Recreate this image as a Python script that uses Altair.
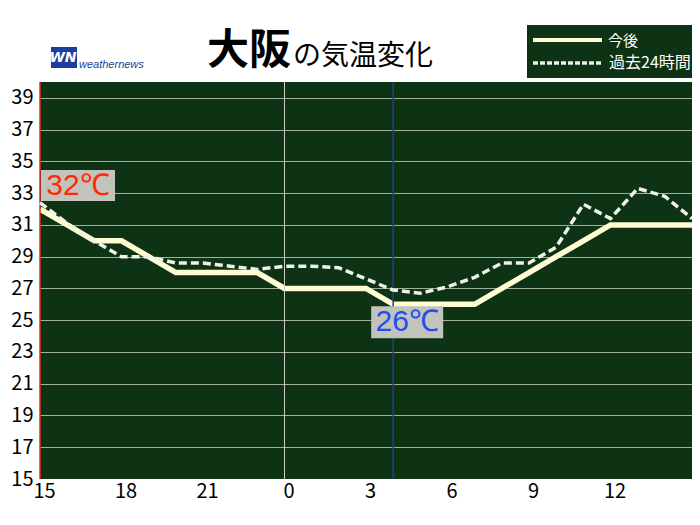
import altair as alt
import pandas as pd

# ---- data ----
hours = [15, 16, 17, 18, 19, 20, 21, 22, 23, 0, 1, 2, 3, 4, 5, 6, 7, 8, 9, 10, 11, 12, 13, 14, 15]
forecast = [32, 31, 30, 30, 29, 28, 28, 28, 28, 27, 27, 27, 27, 26, 26, 26, 26, 27, 28, 29, 30, 31, 31, 31, 31]
past24 = [32.4, 31.1, 30.0, 29.0, 29.0, 28.6, 28.6, 28.4, 28.2, 28.4, 28.4, 28.3, 27.6,
          26.9, 26.7, 27.1, 27.7, 28.6, 28.6, 29.6, 32.3, 31.4, 33.3, 32.8, 31.4]
y_ticks = [15, 17, 19, 21, 23, 25, 27, 29, 31, 33, 35, 37, 39]
x_tick_steps = [0, 3, 6, 9, 12, 15, 18, 21]
now_step = [13]          # current time (4時)
midnight_step = [9]      # 0時
max_step = [0]
ann_steps = [0, 13]
ann_temps = [32, 26]
ann_text = ["32℃", "26℃"]
series_names = ["今後", "過去24時間"]
title_big = "大阪"
title_small = "の気温変化"

BG = "#0d3214"
CREAM = "#fffbd2"
DASH = "#eef2e6"
FONT = "Noto Sans CJK JP"
NUMFONT = "Liberation Sans"

steps = list(range(len(hours)))
df = pd.DataFrame({"step": steps, "hour": hours, "forecast": forecast, "past": past24})
ann = pd.DataFrame({"step": ann_steps, "temp": ann_temps, "label": ann_text})
one = pd.DataFrame({"a": [0]})

label_expr = "[" + ",".join(str(h) for h in hours) + "][datum.value]"

xscale = alt.Scale(domain=[0, 24], nice=False, zero=False)
yscale = alt.Scale(domain=[15, 40], nice=False, zero=False)

x_enc = alt.X("step:Q", scale=xscale, axis=alt.Axis(
    values=x_tick_steps, tickCount=30, labelExpr=label_expr, title=None, grid=False,
    domain=False, ticks=False, labelFont=FONT, labelFontSize=20, labelColor="#000",
    labelPadding=2, labelOffset=4, labelFlush=False, labelOverlap=False))

base = alt.Chart(df)

yaxis = alt.Axis(values=y_ticks, tickCount=30, title=None, domain=False, ticks=False,
                 labelFont=FONT, labelFontSize=20, labelColor="#000", labelPadding=7,
                 labelOverlap=False, labelFlush=False, labelBound=False,
                 grid=True,
                 gridColor=alt.condition("datum.value == 15", alt.value("transparent"), alt.value("#9fb19a")),
                 gridWidth=1)

solid = base.mark_line(color=CREAM, strokeWidth=5.5, strokeJoin="miter").encode(
    x=x_enc, y=alt.Y("forecast:Q", scale=yscale, axis=yaxis))
dashed = base.mark_line(color=DASH, strokeWidth=3.5, strokeDash=[8, 4]).encode(
    x="step:Q", y="past:Q")

mid_rule = alt.Chart(pd.DataFrame({"step": midnight_step})).mark_rule(
    color="#c9d3c2", strokeWidth=1).encode(x="step:Q")
now_rule = alt.Chart(pd.DataFrame({"step": now_step})).mark_rule(
    color="#1f3fa0", strokeWidth=1.5).encode(x="step:Q")
max_rule = alt.Chart(pd.DataFrame({"step": max_step})).mark_rule(
    color="#e03020", strokeWidth=1.5).encode(x="step:Q")

ann_max = alt.Chart(ann.iloc[[0]])
ann_min = alt.Chart(ann.iloc[[1]])
box_max = ann_max.mark_rect(color="#c2c3bb", xOffset=1, x2Offset=75, yOffset=-39, y2Offset=-8).encode(
    x="step:Q", x2="step:Q", y="temp:Q", y2="temp:Q")
txt_max = ann_max.mark_text(color="#ff2a0a", font=NUMFONT, fontSize=30, dx=38, dy=-23,
                            baseline="middle", align="center").encode(
    x="step:Q", y="temp:Q", text="label:N")
box_min = ann_min.mark_rect(color="#c2c3bb", xOffset=-22, x2Offset=50, yOffset=2, y2Offset=34).encode(
    x="step:Q", x2="step:Q", y="temp:Q", y2="temp:Q")
txt_min = ann_min.mark_text(color="#1e4ff0", font=NUMFONT, fontSize=30, dx=14, dy=18,
                            baseline="middle", align="center").encode(
    x="step:Q", y="temp:Q", text="label:N")

o = alt.Chart(one)
t_big = o.mark_text(text=title_big, font=FONT, fontSize=42, fontWeight="bold", color="#000",
                    align="left", baseline="alphabetic").encode(x=alt.value(167), y=alt.value(-18))
t_small = o.mark_text(text=title_small, font=FONT, fontSize=28, color="#000",
                      align="left", baseline="alphabetic").encode(x=alt.value(253), y=alt.value(-17))

logo_box = o.mark_rect(color="#1b3f9c").encode(
    x=alt.value(11), x2=alt.value(37), y=alt.value(-35), y2=alt.value(-14))
logo_wn = o.mark_text(text="WN", font="DejaVu Sans", fontSize=14, fontWeight="bold",
                      fontStyle="italic", color="white", align="center", baseline="middle").encode(
    x=alt.value(23), y=alt.value(-24))
logo_txt = o.mark_text(text="weathernews", font="Liberation Sans", fontSize=11,
                       fontStyle="italic", color="#1c3f94", align="left", baseline="middle").encode(
    x=alt.value(39), y=alt.value(-17))

leg_box = o.mark_rect(color=BG).encode(
    x=alt.value(487), x2=alt.value(652), y=alt.value(-57), y2=alt.value(-4))
leg_solid = o.mark_rule(color=CREAM, strokeWidth=4).encode(
    x=alt.value(493), x2=alt.value(562), y=alt.value(-42))
leg_dash = o.mark_rule(color=DASH, strokeWidth=3.5, strokeDash=[5, 2]).encode(
    x=alt.value(493), x2=alt.value(562), y=alt.value(-19))
leg_t1 = o.mark_text(text=series_names[0], font=FONT, fontSize=15, color="white",
                     align="left", baseline="middle").encode(x=alt.value(568), y=alt.value(-41))
leg_t2 = o.mark_text(text=series_names[1], font=FONT, fontSize=16, color="white",
                     align="left", baseline="middle").encode(x=alt.value(569), y=alt.value(-19))

chart = alt.layer(
    solid, mid_rule, now_rule, max_rule, dashed,
    box_max, txt_max, box_min, txt_min,
    t_big, t_small, logo_box, logo_wn, logo_txt,
    leg_box, leg_solid, leg_dash, leg_t1, leg_t2,
).properties(
    width=652, height=397,
    autosize=alt.AutoSizeParams(type="none"),
    padding={"left": 32, "top": 74, "right": 0, "bottom": 28},
    background="white",
).configure_view(fill=BG, stroke=None)

chart.save("out.html", embed_options={"renderer": "svg", "actions": False})
